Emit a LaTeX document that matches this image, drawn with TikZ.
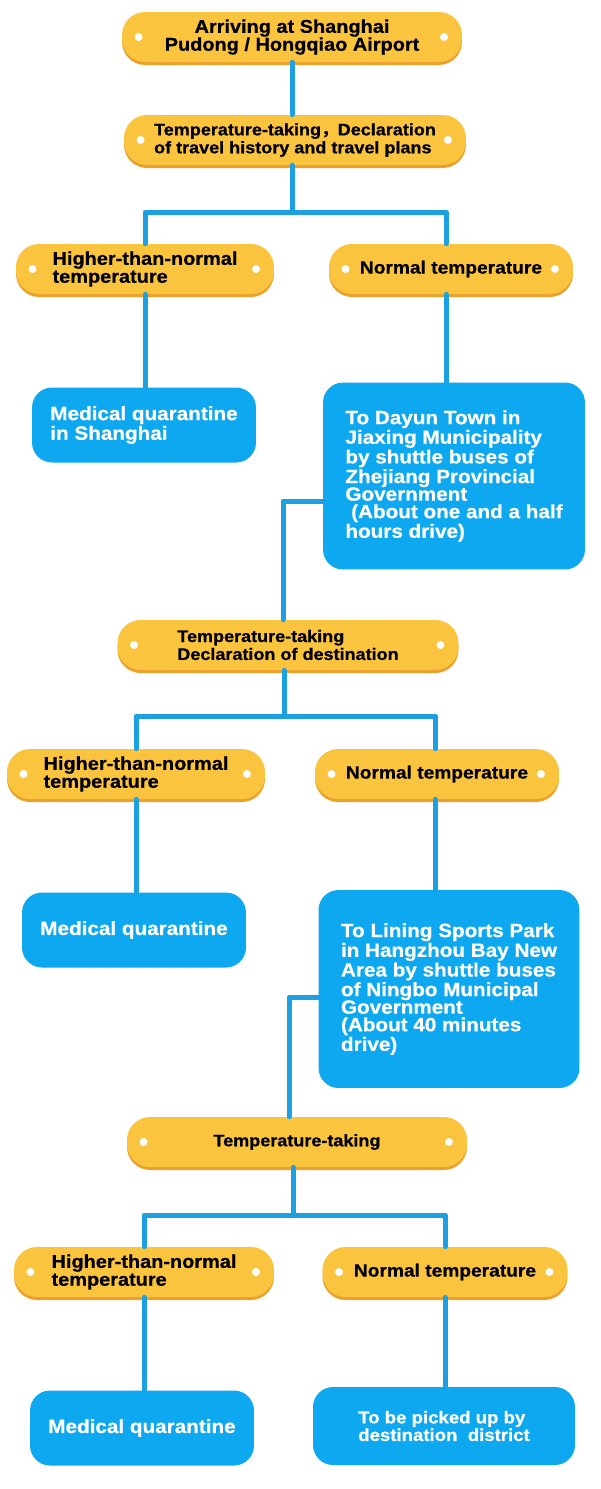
\documentclass[tikz,border=0pt]{standalone}
\usepackage{fontspec}
\setmainfont{Liberation Sans}[FakeStretch=1.08, BoldFeatures={FakeBold=0.6}]
\newfontfamily\cjk{Noto Sans CJK SC}
\usetikzlibrary{shadows}
\definecolor{pillyellow}{RGB}{250,196,62}
\definecolor{pillshade}{RGB}{236,160,44}
\definecolor{boxblue}{RGB}{14,168,240}
\definecolor{linkblue}{RGB}{28,160,226}
\tikzset{
  pill/.style={fill=pillyellow, rounded corners=0.46cm, minimum height=1.0cm, inner sep=0pt, align=left,
    font=\bfseries\fontsize{10.5}{10.2}\selectfont,
    drop shadow={shadow xshift=0pt,shadow yshift=-0.06cm,fill=pillshade,opacity=1},
    path picture={\fill[white] ([xshift=0.33cm]path picture bounding box.west) circle (0.08cm);
                  \fill[white] ([xshift=-0.36cm]path picture bounding box.east) circle (0.08cm);}},
  smallpill/.style={pill, font=\bfseries\fontsize{9.5}{10.2}\selectfont},
  okpill/.style={pill, minimum width=4.88cm, font=\bfseries\fontsize{10.1}{10.2}\selectfont},
  bluebox/.style={fill=boxblue, rounded corners=0.4cm, text=white, align=left, inner sep=0pt,
    font=\bfseries\fontsize{10.9}{10}\selectfont},
  link/.style={draw=linkblue, line width=0.1cm}
}
\begin{document}
\begin{tikzpicture}[line cap=round,line join=round,x=0.02cm,y=-0.02cm]
\useasboundingbox (0,0) rectangle (600,1489);
% arrival and first check
\node[pill, align=center, minimum width=6.8cm] (arrive) at (292,37) {Arriving at Shanghai\\Pudong / Hongqiao Airport};
\node[smallpill, minimum width=6.84cm] (declare) at (295,140) {Temperature-taking{\cjk ，}Declaration\\of travel history and travel plans};
\node[pill, minimum width=5.16cm] (hotA) at (145,269) {Higher-than-normal\\temperature};
\node[okpill] (okA) at (451,269) {Normal temperature};
\node[bluebox, align=left, minimum width=4.48cm, minimum height=1.5cm] (quarA) at (144,425) {Medical quarantine\\in Shanghai};
\node[bluebox, minimum width=5.24cm, minimum height=3.74cm] (busA) at (454,476) {To Dayun Town in\\Jiaxing Municipality\\by shuttle buses of\\Zhejiang Provincial\\Government\\\ (About one and a half\\hours drive)};
\coordinate (forkA) at (292,212);
\draw[link] (arrive.south) -- (arrive.south |- declare.north);
\draw[link] (forkA |- declare.south) -- (forkA);
\draw[link] (hotA.north) |- (forkA) -| ([xshift=-0.1cm]okA.north);
\draw[link] (hotA.south) -- (hotA.south |- quarA.north);
\draw[link] ([xshift=-0.1cm]okA.south) -- ([xshift=-0.1cm]okA.south |- busA.north);
% second check
\node[smallpill, minimum width=6.82cm] (dest) at (288,645) {Temperature-taking\\Declaration of destination};
\node[pill, minimum width=5.16cm] (hotB) at (136,774) {Higher-than-normal\\temperature};
\node[okpill] (okB) at (437,774) {Normal temperature};
\node[bluebox, minimum width=4.48cm, minimum height=1.5cm] (quarB) at (134,930) {Medical quarantine};
\node[bluebox, minimum width=5.22cm, minimum height=3.96cm] (busB) at (449,989) {To Lining Sports Park\\in Hangzhou Bay New\\Area by shuttle buses\\of Ningbo Municipal\\Government\\(About 40 minutes\\drive)};
\coordinate (forkB) at (284,716);
\draw[link] ([yshift=-0.5cm]busA.west) -| ([xshift=-0.1cm]dest.north);
\draw[link] (forkB |- dest.south) -- (forkB);
\draw[link] (hotB.north) |- (forkB) -| ([xshift=-0.04cm]okB.north);
\draw[link] (hotB.south) -- (hotB.south |- quarB.north);
\draw[link] ([xshift=-0.04cm]okB.south) -- ([xshift=-0.04cm]okB.south |- busB.north);
% third check
\node[smallpill, minimum width=6.8cm] (temp) at (297,1142) {Temperature-taking};
\node[pill, minimum width=5.2cm] (hotC) at (144,1272) {Higher-than-normal\\temperature};
\node[okpill, minimum width=4.9cm] (okC) at (445,1272) {Normal temperature};
\node[bluebox, minimum width=4.48cm, minimum height=1.5cm] (quarC) at (142,1428) {Medical quarantine};
\node[bluebox, minimum width=5.24cm, minimum height=1.56cm, font=\bfseries\fontsize{9.8}{10}\selectfont] (pick) at (444,1426) {To be picked up by\\destination\ \ district};
\coordinate (forkC) at (293,1215);
\draw[link] ([yshift=-0.16cm]busB.west) -| ([xshift=-0.16cm]temp.north);
\draw[link] (forkC |- temp.south) -- (forkC);
\draw[link] (hotC.north) |- (forkC) -| (okC.north);
\draw[link] (hotC.south) -- (hotC.south |- quarC.north);
\draw[link] (okC.south) -- (okC.south |- pick.north);
\end{tikzpicture}
\end{document}
